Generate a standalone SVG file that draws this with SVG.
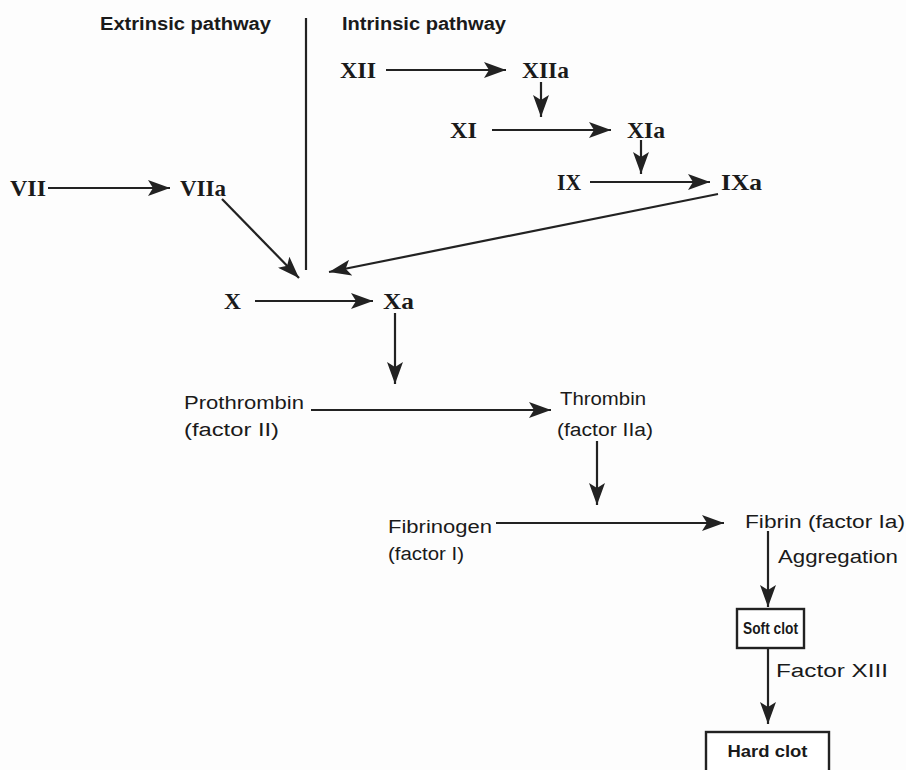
<svg xmlns="http://www.w3.org/2000/svg" width="906" height="770" viewBox="0 0 906 770">
<style>
.bg{fill:#fdfdfd}
text{fill:#1a1a1a}
.lbl{font-family:"Liberation Sans",Arial,sans-serif;font-size:18px}
.hd{font-family:"Liberation Sans",Arial,sans-serif;font-size:18px;font-weight:bold}
.bx{font-family:"Liberation Sans",Arial,sans-serif;font-size:17px;font-weight:bold}
.rn{font-family:"Liberation Serif","Times New Roman",serif;font-size:23px;font-weight:bold}
.ln{stroke:#222;stroke-width:2.2;fill:none}
.box{fill:#fff;stroke:#222;stroke-width:2.4}
</style>
<defs>
<marker id="ah" viewBox="0 0 22 16" refX="22" refY="8" markerWidth="22" markerHeight="16" markerUnits="userSpaceOnUse" orient="auto">
<path d="M0,0 L22,8 L0,16 L5,8 Z" fill="#222"/>
</marker>
</defs>
<rect class="bg" x="0" y="0" width="906" height="770"/>
<g id="connectors">
<line class="ln" x1="306" y1="18" x2="306" y2="270"/>
<line class="ln" x1="386" y1="70" x2="506" y2="70" marker-end="url(#ah)"/>
<line class="ln" x1="541" y1="82" x2="541" y2="117" marker-end="url(#ah)"/>
<line class="ln" x1="492" y1="130" x2="611" y2="130" marker-end="url(#ah)"/>
<line class="ln" x1="641" y1="140" x2="641" y2="174" marker-end="url(#ah)"/>
<line class="ln" x1="590" y1="182" x2="710" y2="182" marker-end="url(#ah)"/>
<line class="ln" x1="718" y1="194" x2="329" y2="272" marker-end="url(#ah)"/>
<line class="ln" x1="48" y1="188" x2="170" y2="188" marker-end="url(#ah)"/>
<line class="ln" x1="222" y1="199" x2="299" y2="278" marker-end="url(#ah)"/>
<line class="ln" x1="255" y1="301" x2="373" y2="301" marker-end="url(#ah)"/>
<line class="ln" x1="395" y1="313" x2="395" y2="384" marker-end="url(#ah)"/>
<line class="ln" x1="311" y1="410" x2="551" y2="410" marker-end="url(#ah)"/>
<line class="ln" x1="597" y1="441" x2="597" y2="505" marker-end="url(#ah)"/>
<line class="ln" x1="496" y1="523" x2="724" y2="523" marker-end="url(#ah)"/>
<line class="ln" x1="768" y1="531" x2="768" y2="607" marker-end="url(#ah)"/>
<line class="ln" x1="768" y1="648" x2="768" y2="724" marker-end="url(#ah)"/>
</g>
<g id="headers">
<text class="hd" x="100" y="30" textLength="171" lengthAdjust="spacingAndGlyphs">Extrinsic pathway</text>
<text class="hd" x="342" y="30" textLength="164" lengthAdjust="spacingAndGlyphs">Intrinsic pathway</text>
</g>
<g id="n-XII"><text class="rn" x="340" y="78" textLength="36" lengthAdjust="spacingAndGlyphs">XII</text></g>
<g id="n-XIIa"><text class="rn" x="522" y="78" textLength="47" lengthAdjust="spacingAndGlyphs">XIIa</text></g>
<g id="n-XI"><text class="rn" x="450" y="138" textLength="27" lengthAdjust="spacingAndGlyphs">XI</text></g>
<g id="n-XIa"><text class="rn" x="627" y="138" textLength="38" lengthAdjust="spacingAndGlyphs">XIa</text></g>
<g id="n-IX"><text class="rn" x="557" y="190" textLength="24" lengthAdjust="spacingAndGlyphs">IX</text></g>
<g id="n-IXa"><text class="rn" x="721" y="190" textLength="41" lengthAdjust="spacingAndGlyphs">IXa</text></g>
<g id="n-VII"><text class="rn" x="10" y="196" textLength="36" lengthAdjust="spacingAndGlyphs">VII</text></g>
<g id="n-VIIa"><text class="rn" x="180" y="196" textLength="46" lengthAdjust="spacingAndGlyphs">VIIa</text></g>
<g id="n-X"><text class="rn" x="224" y="309" textLength="17" lengthAdjust="spacingAndGlyphs">X</text></g>
<g id="n-Xa"><text class="rn" x="383" y="309" textLength="31" lengthAdjust="spacingAndGlyphs">Xa</text></g>
<g id="n-prothrombin">
<text class="lbl" x="184" y="409" textLength="120" lengthAdjust="spacingAndGlyphs">Prothrombin</text>
<text class="lbl" x="184" y="436" textLength="95" lengthAdjust="spacingAndGlyphs">(factor II)</text>
</g>
<g id="n-thrombin">
<text class="lbl" x="560" y="405" textLength="86" lengthAdjust="spacingAndGlyphs">Thrombin</text>
<text class="lbl" x="557" y="436" textLength="96" lengthAdjust="spacingAndGlyphs">(factor IIa)</text>
</g>
<g id="n-fibrinogen">
<text class="lbl" x="388" y="533" textLength="104" lengthAdjust="spacingAndGlyphs">Fibrinogen</text>
<text class="lbl" x="388" y="560" textLength="76" lengthAdjust="spacingAndGlyphs">(factor I)</text>
</g>
<g id="n-fibrin"><text class="lbl" x="745" y="528" textLength="160" lengthAdjust="spacingAndGlyphs">Fibrin (factor Ia)</text></g>
<g id="l-aggregation"><text class="lbl" x="778" y="563" textLength="120" lengthAdjust="spacingAndGlyphs">Aggregation</text></g>
<g id="n-softclot">
<rect class="box" x="737" y="609" width="67" height="39"/>
<text class="bx" x="770.5" y="634" text-anchor="middle" textLength="55" lengthAdjust="spacingAndGlyphs">Soft clot</text>
</g>
<g id="l-factorXIII"><text class="lbl" x="776" y="677" textLength="112" lengthAdjust="spacingAndGlyphs">Factor XIII</text></g>
<g id="n-hardclot">
<rect class="box" x="706" y="732" width="123" height="44"/>
<text class="bx" x="767.5" y="757" text-anchor="middle" textLength="80" lengthAdjust="spacingAndGlyphs">Hard clot</text>
</g>
</svg>
